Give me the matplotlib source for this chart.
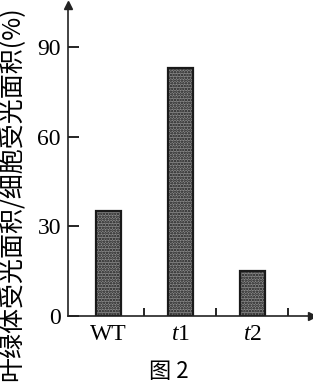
import numpy as np
import matplotlib.pyplot as plt

# data
groups = ['WT', 't1', 't2']
values = [35, 83, 15]
yticks = [0, 30, 60, 90]
ylabel = '叶绿体受光面积/细胞受光面积(%)'
caption = '图 2'

cjk = ['Noto Sans CJK SC', 'DejaVu Sans']
serif = 'Liberation Serif'
plt.rcParams['mathtext.fontset'] = 'custom'
plt.rcParams['mathtext.it'] = 'Liberation Serif:italic'
plt.rcParams['mathtext.rm'] = 'Liberation Serif'
plt.rcParams['hatch.linewidth'] = 1.2

fig = plt.figure(figsize=(3.13, 3.87), dpi=100)
ax = fig.add_axes([0.217, 0.1835, 0.78, 0.8035])

x = np.arange(len(groups))
ax.bar(x, values, width=0.35, facecolor='#8a8a8a', edgecolor='#1a1a1a',
       hatch='......', linewidth=1.6)

ax.set_xlim(-0.56, 2.83)
ax.set_ylim(0, 104)

for s in ['top', 'right']:
    ax.spines[s].set_visible(False)
for s in ['left', 'bottom']:
    ax.spines[s].set_linewidth(1.2)
    ax.spines[s].set_color('#222222')

# arrow heads at the axis ends
ax.plot(1, 0, '>', color='#222222', ms=6, transform=ax.transAxes, clip_on=False)
ax.plot(0, 1, '^', color='#222222', ms=6, transform=ax.transAxes, clip_on=False)

ax.set_yticks(yticks)
ax.set_yticklabels([str(t) for t in yticks], fontfamily=serif, fontsize=17)
ax.tick_params(axis='y', direction='in', length=8, width=1.2, pad=5)

# boundary ticks on the x axis, labels at bar centres
ax.set_xticks([0.5, 1.5, 2.5])
ax.set_xticklabels([])
ax.tick_params(axis='x', which='major', direction='in', length=6, width=1.2)
ax.set_xticks(x, minor=True)
ax.set_xticklabels(['WT', '$t$1', '$t$2'], minor=True, fontfamily=serif, fontsize=17)
ax.tick_params(axis='x', which='minor', length=0, pad=6)

fig.text(0.04, 0.5, ylabel, rotation=90, ha='center', va='center',
         family=cjk, fontsize=18)
fig.text(0.54, 0.04, caption, ha='center', va='center', family=cjk, fontsize=16)

fig.savefig('out.png', dpi=100)
